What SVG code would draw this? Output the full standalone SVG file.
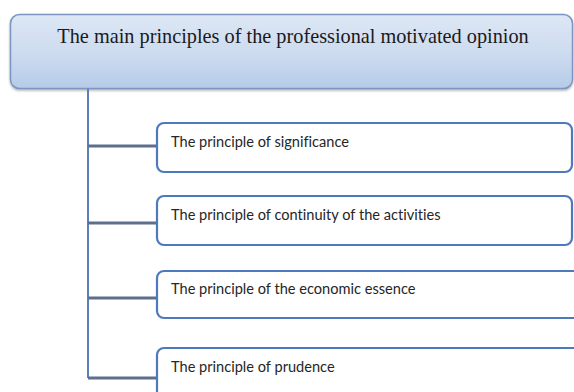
<svg xmlns="http://www.w3.org/2000/svg" width="574" height="392" viewBox="0 0 574 392">
  <defs>
    <linearGradient id="headFill" x1="0" y1="0" x2="0" y2="1">
      <stop offset="0" stop-color="#dde7f5"/>
      <stop offset="0.5" stop-color="#cedcf0"/>
      <stop offset="1" stop-color="#b6cbe9"/>
    </linearGradient>
    <filter id="soft" x="-5%" y="-20%" width="110%" height="150%">
      <feDropShadow dx="0" dy="1.5" stdDeviation="1" flood-color="#555" flood-opacity="0.45"/>
    </filter>
  </defs>
  <style>
    .head { fill: url(#headFill); stroke: #7b96c2; stroke-width: 1.5; }
    .head-text { font-family: "Liberation Serif", serif; font-size: 20.3px; fill: #1a1a1a; }
    .item { fill: #ffffff; stroke: #4e79bd; stroke-width: 2.2; }
    .item-text { font-family: Lato, "Open Sans", sans-serif; font-size: 14.6px; fill: #262626; font-variant-ligatures: none; }
    .trunk { stroke: #5a80bd; stroke-width: 2; fill: none; }
    .branch { stroke: #5d6f8c; stroke-width: 3; fill: none; }
  </style>

  <rect width="574" height="392" fill="#ffffff"/>

  <!-- header -->
  <g id="header">
    <rect class="head" x="10.5" y="14.5" width="562" height="74" rx="9" filter="url(#soft)"/>
    <text class="head-text" x="293" y="43" text-anchor="middle">The main principles of the professional motivated opinion</text>
  </g>

  <!-- connectors -->
  <g id="connectors">
    <path class="trunk" d="M88,89 V378"/>
    <path class="branch" d="M88,146 H157"/>
    <path class="branch" d="M88,223 H157"/>
    <path class="branch" d="M88,298 H157"/>
    <path class="branch" d="M88,378 H157"/>
  </g>

  <!-- principle boxes -->
  <g id="significance">
    <rect class="item" x="157" y="123" width="415" height="49" rx="7"/>
    <text class="item-text" x="171" y="147">The principle of significance</text>
  </g>
  <g id="continuity">
    <rect class="item" x="157" y="196" width="415" height="49" rx="7"/>
    <text class="item-text" x="171" y="220">The principle of continuity of the activities</text>
  </g>
  <g id="economic-essence">
    <rect class="item" x="157" y="271" width="425" height="47" rx="7"/>
    <text class="item-text" x="171" y="294">The principle of the economic essence</text>
  </g>
  <g id="prudence">
    <rect class="item" x="157" y="348" width="425" height="60" rx="7"/>
    <text class="item-text" x="171" y="372">The principle of prudence</text>
  </g>
</svg>
